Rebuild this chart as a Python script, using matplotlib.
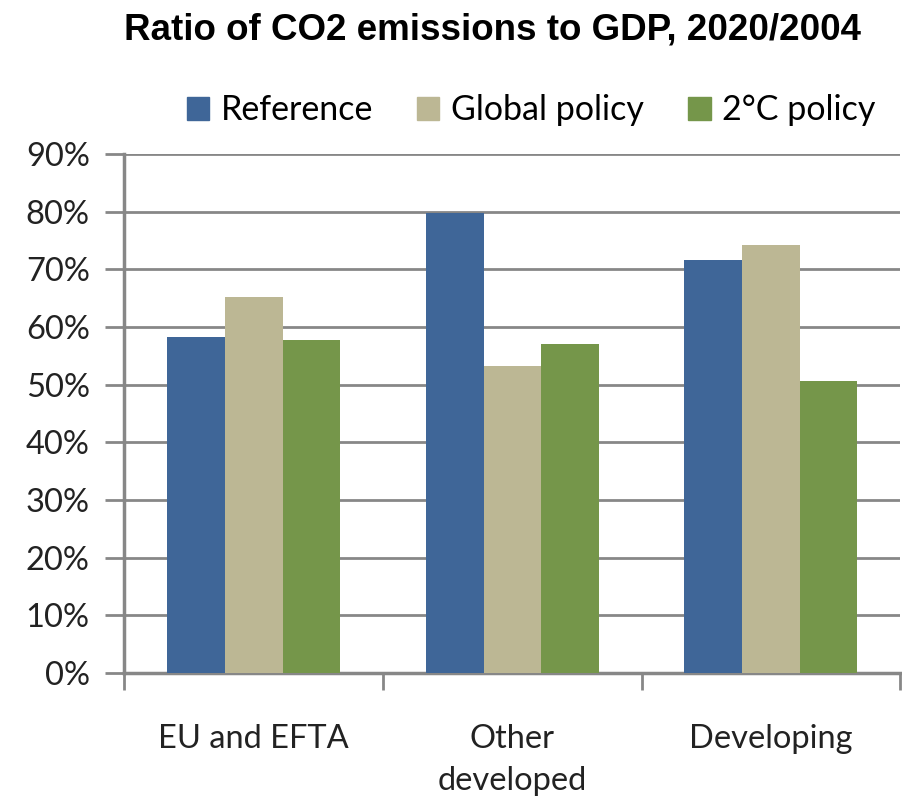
import numpy as np
import matplotlib.pyplot as plt
from matplotlib.patches import Patch

# ratio of CO2 emissions to GDP, 2020 vs 2004
regions = ['EU and EFTA', 'Other\ndeveloped', 'Developing']
scenarios = ['Reference', 'Global policy', '2°C policy']
reference = [0.582, 0.797, 0.717]
global_policy = [0.652, 0.532, 0.742]
two_deg = [0.577, 0.571, 0.506]
colors = ['#3f6698', '#bcb794', '#75964a']

grey = '#878787'
tick_font = 'Lato'

fig = plt.figure(figsize=(9.02, 7.98), dpi=100)
ax = fig.add_axes([0.138, 0.1566, 0.86, 0.6504])

x = np.arange(len(regions))
w = 0.223
for i, vals in enumerate([reference, global_policy, two_deg]):
    ax.bar(x + (i - 1) * w, vals, width=w, color=colors[i], zorder=3)

ax.set_xlim(-0.5, len(regions) - 0.5)
ax.set_ylim(0, 0.9)
ax.set_yticks(np.arange(0, 0.91, 0.1))
ax.set_yticklabels(['%d%%' % round(v * 100) for v in np.arange(0, 0.91, 0.1)],
                   fontsize=23.5, family=tick_font, color='#222222')

# category labels in the middle, tick marks on the group boundaries
ax.set_xticks(x)
ax.set_xticklabels(regions, fontsize=23.5, family=tick_font, color='#222222',
                   linespacing=1.5)
ax.set_xticks(np.arange(-0.5, len(regions)), minor=True)
ax.tick_params(axis='x', which='major', length=0, pad=37)
ax.tick_params(axis='x', which='minor', length=12, width=2, color=grey)
ax.tick_params(axis='y', length=14, width=2, color=grey, pad=11)

ax.grid(axis='y', color=grey, linewidth=2, zorder=0)
ax.set_axisbelow(True)
for s in ['top', 'right']:
    ax.spines[s].set_visible(False)
for s in ['left', 'bottom']:
    ax.spines[s].set_color(grey)
    ax.spines[s].set_linewidth(2.5)

handles = [Patch(color=c, label=l) for c, l in zip(colors, scenarios)]
fig.legend(handles=handles, loc='center', bbox_to_anchor=(0.589, 0.862),
           ncol=3, frameon=False, handlelength=0.65, handleheight=0.65,
           handletextpad=0.35, columnspacing=1.3,
           prop={'family': tick_font, 'size': 24.5})

fig.text(0.546, 0.963, 'Ratio of CO2 emissions to GDP, 2020/2004',
         ha='center', va='center', fontsize=26.5, fontweight='bold',
         family='Liberation Sans')

fig.savefig('out.png', dpi=100)
